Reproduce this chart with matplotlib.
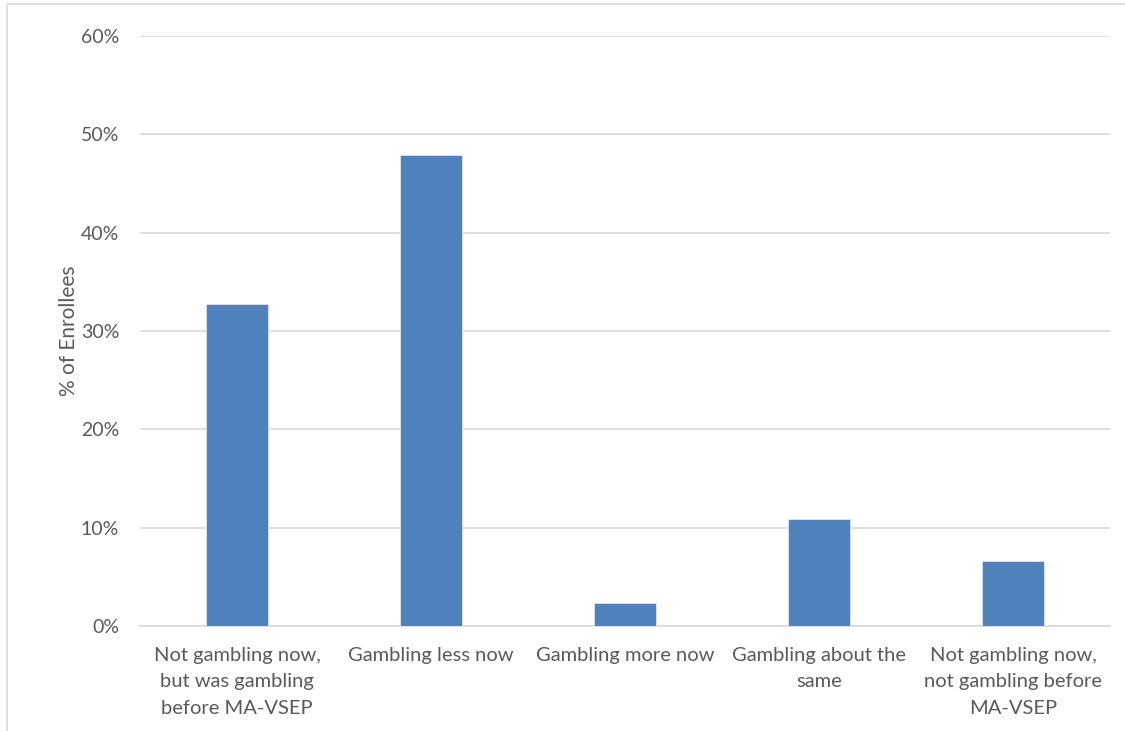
import matplotlib
matplotlib.use("Agg")
import matplotlib.pyplot as plt
from matplotlib.patches import Rectangle
from matplotlib.ticker import PercentFormatter

categories = [
    "Not gambling now,\nbut was gambling\nbefore MA-VSEP",
    "Gambling less now",
    "Gambling more now",
    "Gambling about the\nsame",
    "Not gambling now,\nnot gambling before\nMA-VSEP",
]
values = [32.7, 47.9, 2.3, 10.9, 6.6]
yticks = [0, 10, 20, 30, 40, 50, 60]

plt.rcParams['font.family'] = ['Lato', 'DejaVu Sans']
text_color = "#595959"
grid_color = "#d9d9d9"

fig = plt.figure(figsize=(11.25, 7.31), dpi=100)
ax = fig.add_axes([140/1125, 1-626/731, 970/1125, 590/731])

x = list(range(len(categories)))
ax.bar(x, values, width=0.315, color="#4f81bd", edgecolor="#dce6f2", linewidth=0.6, zorder=3)

ax.set_xlim(-0.5, len(categories) - 0.5)
ax.set_ylim(0, 60)
ax.set_yticks(yticks)
ax.yaxis.set_major_formatter(PercentFormatter(decimals=0))
ax.grid(axis='y', color=grid_color, linewidth=1.2, zorder=0)
ax.set_axisbelow(True)
for s in ['top', 'right', 'left']:
    ax.spines[s].set_visible(False)
ax.spines['bottom'].set_color(grid_color)
ax.spines['bottom'].set_linewidth(1.2)

ax.set_xticks(x)
ax.set_xticklabels(categories, fontsize=14.5, color=text_color, linespacing=1.68)
ax.tick_params(axis='x', length=0, pad=15)
ax.tick_params(axis='y', length=0, pad=15, labelsize=14, labelcolor=text_color)

ax.set_ylabel("% of Enrollees", fontsize=15, color=text_color, labelpad=1)

# chart area border
fig.patches.append(Rectangle((7/1125, -0.1), 1.2, 1 - 4/731 + 0.1, transform=fig.transFigure,
                             fill=False, edgecolor=grid_color, linewidth=1.2, zorder=0))

fig.savefig("out.png", dpi=100)
